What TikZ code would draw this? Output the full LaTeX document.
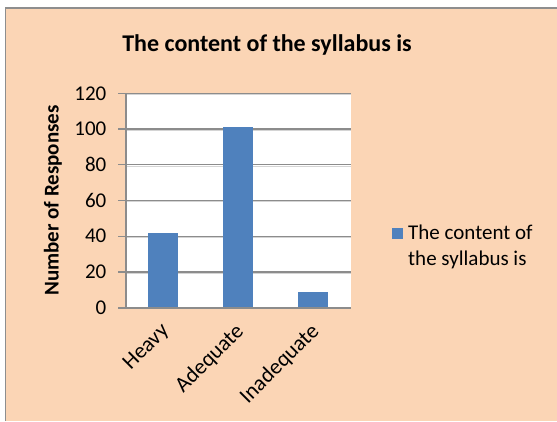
\documentclass[tikz,border=0pt]{standalone}
\usepackage{fontspec}
\setmainfont{Carlito}
\definecolor{peach}{HTML}{FBD5B5}
\definecolor{framegray}{HTML}{8E8E8E}
\definecolor{gridgray}{HTML}{8C8C8C}
\definecolor{gridshade}{HTML}{D4D4D4}
\definecolor{barblue}{HTML}{4F81BD}
\begin{document}
\begin{tikzpicture}[x=1pt,y=-1pt,
  ticklab/.style={anchor=east,inner sep=0pt,font=\fontsize{21}{25}\selectfont},
  catlab/.style={anchor=east,inner sep=0pt,rotate=45,font=\fontsize{22}{26}\selectfont},
  gridline/.style={draw=gridgray,line width=1.3pt},
  gridshadow/.style={draw=gridshade,line width=1pt},
  axisline/.style={draw=gridgray,line width=1.6pt},
  bar/.style={fill=barblue}]
\useasboundingbox (0,0) rectangle (557,421);
\fill[white] (0,0) rectangle (557,421);
\fill[peach] (5.5,8) rectangle (557,421);
\draw[framegray,line width=1.5pt] (5.5,421) -- (5.5,8) -- (557,8);
% plot area
\fill[white] (125.7,93.3) rectangle (350.7,307.7);
\foreach \v in {20,40,60,80,100,120}{
  \draw[gridshadow] (125.7,{307.7-\v*1.7867+1.3}) -- (350.7,{307.7-\v*1.7867+1.3});
  \draw[gridline] (118,{307.7-\v*1.7867}) -- (350.7,{307.7-\v*1.7867});
}
\foreach \v in {0,20,40,60,80,100,120}{
  \node[ticklab] (t\v) at (106.5,{307.7-\v*1.7867}) {\v};
}
% bars
\fill[bar] (148.3,{307.7-42*1.7867}) rectangle (177.7,307.7);
\fill[bar] (222.7,{307.7-101*1.7867}) rectangle (252.7,307.7);
\fill[bar] (298.0,{307.7-9*1.7867}) rectangle (328.0,307.7);
% axes
\draw[axisline] (118,307.7) -- (350.7,307.7);
\draw[axisline] (125.7,93.3) -- (125.7,307.7);
% category labels
\node[catlab] (heavy) at (166,328) {Heavy};
\node[catlab] (adeq) at (240.7,328) {Adequate};
\node[catlab] (inadeq) at (316,328) {Inadequate};
% axis title
\node[rotate=90,inner sep=0pt,font=\fontsize{21}{25}\selectfont\bfseries] (ytitle) at (53,200.5) {Number of Responses};
% chart title
\node[inner sep=0pt,font=\fontsize{24}{28}\selectfont\bfseries] (title) at (267,45) {The content of the syllabus is};
% legend
\fill[barblue] (392,228) rectangle (403,239);
\node[anchor=north west,inner sep=0pt,align=left,font=\fontsize{21}{26}\selectfont] (legend) at (408,225) {The content of\\the syllabus is};
\end{tikzpicture}
\end{document}
